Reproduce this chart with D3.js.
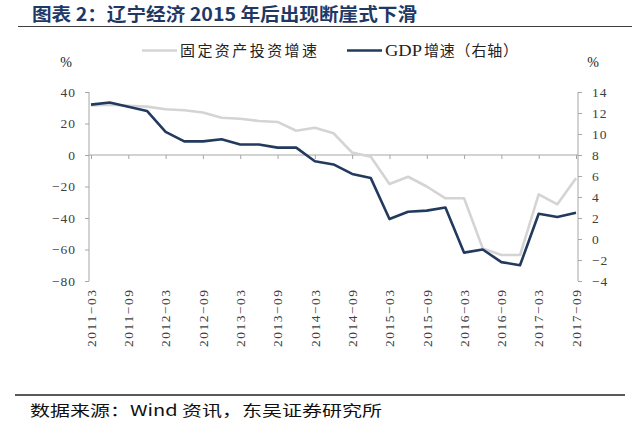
<!DOCTYPE html>
<html><head><meta charset="utf-8">
<script src="https://cdn.jsdelivr.net/npm/d3@7"></script>
<style>
html,body{margin:0;padding:0;background:#fff;}
svg{display:block;}
</style></head>
<body>
<svg id="c" width="640" height="426"></svg>
<script>
const categories = ["2011-03","2011-06","2011-09","2011-12","2012-03","2012-06","2012-09","2012-12",
  "2013-03","2013-06","2013-09","2013-12","2014-03","2014-06","2014-09","2014-12",
  "2015-03","2015-06","2015-09","2015-12","2016-03","2016-06","2016-09","2016-12",
  "2017-03","2017-06","2017-09"];
const faiGrowth = [31.5, 32, 31.3, 30.7, 29, 28.4, 27, 23.7, 23, 21.6, 21, 15.4, 17.3, 13.8,
  1.5, -1.1, -18.4, -13.8, -20, -27.5, -27.5, -59.3, -63.5, -63.5, -25, -31.3, -14.8];
const gdpGrowth = [12.8, 13.0, 12.6, 12.2, 10.2, 9.3, 9.3, 9.5, 9.0, 9.0, 8.7, 8.7, 7.4, 7.1,
  6.2, 5.8, 1.9, 2.6, 2.7, 3.0, -1.3, -1.0, -2.2, -2.5, 2.4, 2.1, 2.5];
const leftTicks = [40, 20, 0, -20, -40, -60, -80];
const rightTicks = [14, 12, 10, 8, 6, 4, 2, 0, -2, -4];
const seriesNames = ["固定资产投资增速", "GDP增速（右轴）"];
const titleText = "图表 2：辽宁经济 2015 年后出现断崖式下滑";
const sourceText = "数据来源：Wind 资讯，东吴证券研究所";

const svg = d3.select("#c");
const fmt = v => (v < 0 ? "\u2212" + Math.abs(v) : String(v));
const axisColor = "#a6a6a6", labelColor = "#404040";
const grayColor = "#d4d4d4", navyColor = "#223a5e";

// title and rules
svg.append("text").attr("x", 32).attr("y", 21)
  .attr("font-family", "'Noto Sans CJK SC'").attr("font-weight", "bold")
  .attr("font-size", 18).attr("fill", "#1f3864")
  .attr("textLength", 385).attr("lengthAdjust", "spacingAndGlyphs").text(titleText);
svg.append("line").attr("x1", 18).attr("x2", 632).attr("y1", 26.5).attr("y2", 26.5)
  .attr("stroke", "#404040").attr("stroke-width", 1.2);
svg.append("line").attr("x1", 15).attr("x2", 625).attr("y1", 395).attr("y2", 395)
  .attr("stroke", "#222").attr("stroke-width", 1.3);
svg.append("text").attr("x", 30).attr("y", 416)
  .attr("font-family", "'Noto Sans CJK SC'").attr("font-size", 15).attr("fill", "#111")
  .attr("textLength", 352).attr("lengthAdjust", "spacingAndGlyphs").text(sourceText);

// scales
const x = d3.scalePoint().domain(categories).range([91, 576]);
const yL = d3.scaleLinear().domain([-80, 40]).range([281, 92]);
const yR = d3.scaleLinear().domain([-4, 14]).range([281, 92]);

// left axis
const gL = svg.append("g").attr("transform", "translate(89,0)")
  .call(d3.axisLeft(yL).tickValues(leftTicks).tickFormat(fmt).tickSize(4).tickPadding(9));
// right axis
const gR = svg.append("g").attr("transform", "translate(578,0)")
  .call(d3.axisRight(yR).tickValues(rightTicks).tickFormat(fmt).tickSize(4).tickPadding(10));
[gL, gR].forEach(g => {
  g.select(".domain").attr("stroke", axisColor).attr("d", "M0,92V281");
  g.selectAll(".tick line").attr("stroke", axisColor);
  g.selectAll(".tick text").attr("fill", labelColor)
    .attr("font-family", "'Liberation Serif'").attr("font-size", 13.5)
    .attr("letter-spacing", 1);
});

// category axis at zero
const evenCats = categories.filter((d, i) => i % 2 === 0);
const gX = svg.append("g").attr("transform", `translate(0,${yL(0)})`)
  .call(d3.axisBottom(x).tickValues(evenCats).tickSize(4).tickFormat(""));
gX.select(".domain").attr("stroke", axisColor).attr("d", "M89,0H578");
gX.selectAll(".tick line").attr("stroke", axisColor);

// rotated category labels
svg.append("g").selectAll("text").data(evenCats).join("text")
  .attr("transform", d => `translate(${x(d)},290) rotate(-90)`)
  .attr("text-anchor", "end").attr("dy", "0.35em")
  .attr("font-family", "'Liberation Serif'").attr("font-size", 13.5)
  .attr("fill", labelColor)
  .attr("textLength", 57).attr("lengthAdjust", "spacing")
  .text(d => d.replace("-", "\u2212"));

// unit labels
svg.append("text").attr("x", 66).attr("y", 67).attr("text-anchor", "middle")
  .attr("font-family", "'Liberation Serif'").attr("font-size", 14).attr("fill", "#222").text("%");
svg.append("text").attr("x", 593).attr("y", 67).attr("text-anchor", "middle")
  .attr("font-family", "'Liberation Serif'").attr("font-size", 14).attr("fill", "#222").text("%");

// lines
const lineL = d3.line().x((d, i) => x(categories[i])).y(d => yL(d));
const lineR = d3.line().x((d, i) => x(categories[i])).y(d => yR(d));
svg.append("path").datum(faiGrowth).attr("d", lineL).attr("fill", "none")
  .attr("stroke", grayColor).attr("stroke-width", 2.6).attr("stroke-linejoin", "round");
svg.append("path").datum(gdpGrowth).attr("d", lineR).attr("fill", "none")
  .attr("stroke", navyColor).attr("stroke-width", 2.6).attr("stroke-linejoin", "round");

// legend
const leg = svg.append("g");
leg.append("line").attr("x1", 142).attr("x2", 177).attr("y1", 50.5).attr("y2", 50.5)
  .attr("stroke", grayColor).attr("stroke-width", 2.6);
leg.append("text").attr("x", 180).attr("y", 56)
  .attr("font-family", "'Noto Sans CJK SC'").attr("font-size", 15).attr("fill", "#222")
  .attr("textLength", 137).attr("lengthAdjust", "spacing").text(seriesNames[0]);
leg.append("line").attr("x1", 347).attr("x2", 382).attr("y1", 50.5).attr("y2", 50.5)
  .attr("stroke", navyColor).attr("stroke-width", 2.6);
const gdpPart = seriesNames[1].slice(0, 3), cnPart = seriesNames[1].slice(3);
leg.append("text").attr("x", 385).attr("y", 56).attr("fill", "#222")
  .attr("font-family", "'Liberation Serif'").attr("font-size", 16)
  .attr("textLength", 37).attr("lengthAdjust", "spacingAndGlyphs").text(gdpPart);
leg.append("text").attr("x", 424).attr("y", 56).attr("fill", "#222")
  .attr("font-family", "'Noto Sans CJK SC'").attr("font-size", 15)
  .attr("textLength", 94).attr("lengthAdjust", "spacing").text(cnPart);
</script>
</body></html>
